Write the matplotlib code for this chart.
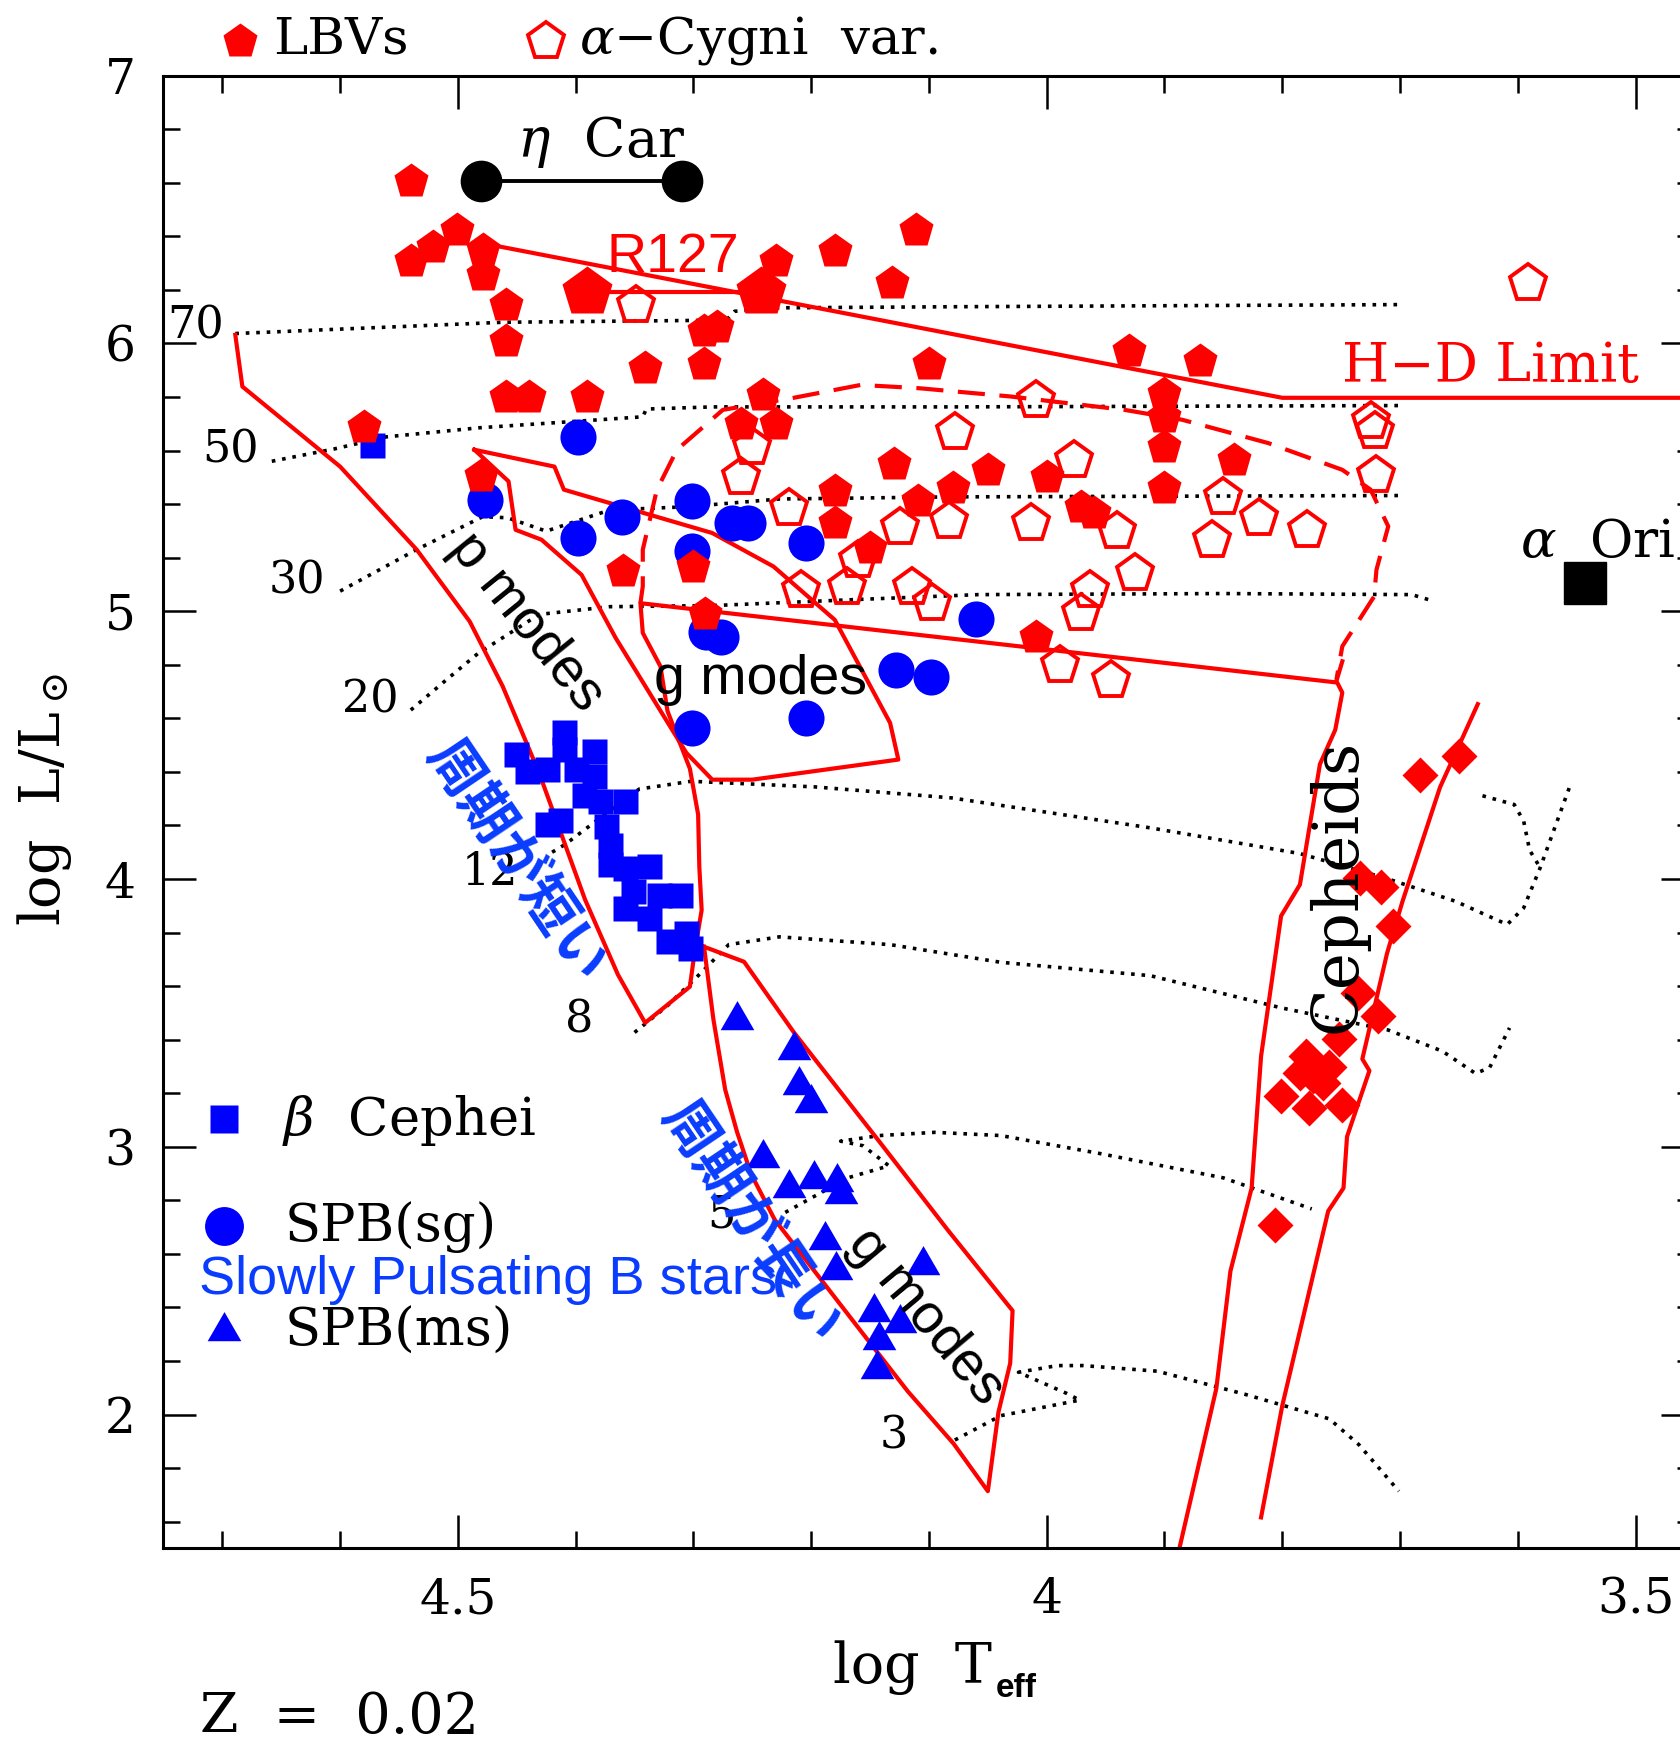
import numpy as np
import matplotlib
matplotlib.use("Agg")
import matplotlib.pyplot as plt
from matplotlib.ticker import MultipleLocator, FixedLocator, FixedFormatter

plt.rcParams['font.family'] = ['DejaVu Serif']
plt.rcParams['mathtext.fontset'] = 'dejavuserif'

# ---------------- data: (log Teff, log L/Lsun) ----------------
lbv_logT = [4.540, 4.501, 4.521, 4.540, 4.479, 4.479, 4.459, 4.459, 4.459, 4.440,
            4.390, 4.341, 4.291, 4.280, 4.291, 4.230, 4.180, 4.111, 4.131, 4.100,
            4.241, 4.260, 4.230, 4.580, 4.480, 4.360, 4.300, 4.290, 4.180, 4.180,
            4.150, 4.130, 4.109, 4.080, 4.050, 4.000, 3.971, 3.960, 3.930, 3.870,
            3.900, 3.900, 3.900, 3.900, 3.841, 4.009]
lbv_logL = [6.606, 6.423, 6.361, 6.307, 6.349, 6.257, 6.145, 6.008, 5.801, 5.801,
            5.801, 5.909, 6.046, 6.062, 5.925, 6.307, 6.344, 6.423, 6.224, 5.925,
            5.809, 5.701, 5.701, 5.689, 5.506, 5.149, 5.166, 4.988, 5.448, 5.328,
            5.237, 5.548, 5.411, 5.461, 5.527, 5.502, 5.390, 5.365, 5.971, 5.934,
            5.813, 5.726, 5.614, 5.461, 5.564, 4.905]
r127_logT = [4.390, 4.243]
r127_logL = [6.192, 6.192]

acyg_logT = [4.349, 4.009, 4.078, 3.725, 3.721, 3.720, 3.977, 4.250, 4.260, 4.219,
             4.125, 4.083, 4.013, 3.940, 3.850, 3.820, 3.779, 3.860, 3.925, 4.160,
             4.170, 4.209, 4.114, 4.097, 3.963, 3.971, 3.989, 3.945, 3.591]
acyg_logL = [6.145, 5.788, 5.668, 5.710, 5.672, 5.510, 5.564, 5.614, 5.502, 5.386,
             5.315, 5.336, 5.328, 5.299, 5.427, 5.349, 5.303, 5.266, 5.141, 5.191,
             5.091, 5.079, 5.091, 5.029, 5.079, 4.992, 4.801, 4.743, 6.224]

bcep_logT = [4.451, 4.441, 4.424, 4.410, 4.410, 4.384, 4.400, 4.384, 4.393, 4.379,
             4.358, 4.424, 4.413, 4.374, 4.371, 4.371, 4.358, 4.338, 4.351, 4.311,
             4.329, 4.358, 4.338, 4.322, 4.303, 4.306, 4.573]
bcep_logL = [4.467, 4.405, 4.412, 4.548, 4.484, 4.477, 4.412, 4.384, 4.312, 4.291,
             4.291, 4.205, 4.220, 4.198, 4.127, 4.056, 4.041, 4.049, 3.956, 3.942,
             3.942, 3.891, 3.856, 3.770, 3.742, 3.798, 5.622]

spbsg_logT = [4.477, 4.398, 4.398, 4.361, 4.301, 4.301, 4.267, 4.254, 4.204, 4.289,
              4.277, 4.060, 4.128, 4.098, 4.204, 4.301]
spbsg_logL = [5.415, 5.651, 5.274, 5.353, 5.411, 5.224, 5.328, 5.328, 5.253, 4.921,
              4.905, 4.971, 4.780, 4.755, 4.602, 4.564]

spbms_logT = [4.263, 4.215, 4.210, 4.200, 4.241, 4.219, 4.198, 4.178, 4.175, 4.188,
              4.179, 4.105, 4.147, 4.125, 4.142, 4.144]
spbms_logL = [3.475, 3.363, 3.232, 3.162, 2.959, 2.846, 2.880, 2.867, 2.822, 2.651,
              2.539, 2.558, 2.382, 2.342, 2.278, 2.172]

ceph_logT = [3.650, 3.683, 3.734, 3.716, 3.706, 3.736, 3.719, 3.752, 3.780, 3.785,
             3.774, 3.801, 3.777, 3.749, 3.806, 3.760, 3.765]
ceph_logL = [4.461, 4.390, 4.002, 3.969, 3.823, 3.573, 3.487, 3.402, 3.338, 3.274,
             3.263, 3.188, 3.145, 3.156, 2.707, 3.299, 3.237]

etacar_logT = [4.480, 4.310]
etacar_logL = [6.606, 6.606]
alfori_logT = [3.543]
alfori_logL = [5.104]

# evolutionary tracks (dotted)
trk70_T = [4.689, 4.462, 4.272, 4.265, 4.227, 4.081, 3.700]
trk70_L = [6.037, 6.079, 6.087, 6.120, 6.133, 6.137, 6.145]
trk50_T = [4.658, 4.605, 4.561, 4.482, 4.397, 4.343, 4.340, 4.284, 4.081, 3.700]
trk50_L = [5.560, 5.606, 5.651, 5.685, 5.710, 5.726, 5.755, 5.763, 5.763, 5.768]
trk30_T = [4.600, 4.536, 4.479, 4.458, 4.425, 4.371, 4.306, 4.227, 4.081, 3.700]
trk30_L = [5.075, 5.228, 5.353, 5.349, 5.299, 5.378, 5.390, 5.419, 5.427, 5.432]
trk20_T = [4.540, 4.510, 4.483, 4.431, 4.371, 4.284, 4.171, 4.058, 3.850, 3.690, 3.671]
trk20_L = [4.631, 4.743, 4.842, 4.988, 5.017, 5.021, 5.042, 5.062, 5.066, 5.062, 5.037]
trk12_T = [4.420, 4.409, 4.378, 4.346, 4.302, 4.197, 4.081, 3.912, 3.785, 3.710,
           3.653, 3.609, 3.595, 3.581, 3.556]
trk12_L = [4.100, 4.129, 4.232, 4.336, 4.365, 4.344, 4.303, 4.191, 4.095, 4.000,
           3.917, 3.830, 3.892, 4.042, 4.344]
trk12b_T = [3.630, 3.603, 3.595, 3.590, 3.581]
trk12b_L = [4.311, 4.278, 4.216, 4.108, 4.042]
trk8_T = [4.350, 4.322, 4.293, 4.270, 4.227, 4.133, 4.039, 3.912, 3.801, 3.710,
          3.664, 3.636, 3.624, 3.607]
trk8_L = [3.427, 3.527, 3.652, 3.755, 3.784, 3.755, 3.689, 3.639, 3.519, 3.436,
          3.357, 3.274, 3.295, 3.444]
trk5_T = [4.222, 4.169, 4.134, 4.156, 4.175, 4.142, 4.095, 4.039, 3.955, 3.850, 3.775]
trk5_L = [2.755, 2.884, 2.929, 3.004, 3.021, 3.042, 3.054, 3.042, 2.975, 2.884, 2.768]
trk3_T = [4.078, 4.039, 3.972, 3.983, 4.024, 3.991, 3.969, 3.906, 3.831, 3.760, 3.735, 3.701]
trk3_L = [1.905, 1.996, 2.054, 2.079, 2.158, 2.183, 2.183, 2.162, 2.075, 1.984, 1.888, 1.714]

mass_labels = ['70', '50', '30', '20', '12', '8', '5', '3']
mass_lab_T = [4.723, 4.693, 4.637, 4.574, 4.473, 4.397, 4.276, 4.130]
mass_lab_L = [6.066, 5.602, 5.112, 4.668, 4.025, 3.473, 2.747, 1.921]

# instability strip / region boundaries (red)
bcep_strip_T = [4.689, 4.683, 4.600, 4.535, 4.490, 4.462, 4.431, 4.392, 4.364, 4.341,
                4.303, 4.299, 4.293, 4.295, 4.296, 4.303, 4.322, 4.328, 4.343, 4.345, 3.756]
bcep_strip_L = [6.032, 5.839, 5.540, 5.230, 4.962, 4.720, 4.396, 3.923, 3.642, 3.463,
                3.598, 3.727, 3.884, 4.046, 4.241, 4.412, 4.627, 4.794, 4.919, 5.030, 4.735]
ceph_blue_T = [3.749, 3.754, 3.749, 3.755, 3.768, 3.785, 3.801, 3.818, 3.826, 3.844, 3.856, 3.890]
ceph_blue_L = [4.813, 4.739, 4.696, 4.557, 4.429, 3.979, 3.862, 3.338, 2.846, 2.536, 2.097, 1.45]
ceph_red_T = [3.634, 3.666, 3.698, 3.711, 3.732, 3.726, 3.745, 3.748, 3.761, 3.800, 3.818]
ceph_red_L = [4.653, 4.343, 3.915, 3.723, 3.328, 3.284, 3.038, 2.846, 2.760, 2.033, 1.616]
acyg_reg_T = [4.345, 4.343, 4.343, 4.331, 4.314, 4.275, 4.216, 4.158, 4.109, 4.031,
              3.934, 3.885, 3.812, 3.749, 3.725, 3.710, 3.720, 3.722, 3.749, 3.754]
acyg_reg_L = [5.030, 5.093, 5.230, 5.454, 5.603, 5.752, 5.796, 5.845, 5.833, 5.802,
              5.752, 5.715, 5.628, 5.528, 5.454, 5.317, 5.155, 5.055, 4.869, 4.745]
spbsg_reg_T = [4.486, 4.418, 4.410, 4.284, 4.232, 4.180, 4.133, 4.126, 4.250, 4.284,
               4.306, 4.366, 4.395, 4.429, 4.451, 4.457, 4.486]
spbsg_reg_L = [5.603, 5.540, 5.454, 5.292, 5.167, 4.968, 4.583, 4.446, 4.371, 4.371,
               4.471, 4.900, 5.136, 5.267, 5.304, 5.485, 5.603]
spbms_reg_T = [4.291, 4.257, 4.215, 4.144, 4.084, 4.029, 4.031, 4.041, 4.050, 4.079,
               4.118, 4.155, 4.193, 4.231, 4.251, 4.263, 4.273, 4.283, 4.291]
spbms_reg_L = [3.747, 3.691, 3.429, 3.030, 2.689, 2.388, 2.192, 2.009, 1.714, 1.891,
               2.087, 2.296, 2.512, 2.728, 2.898, 3.056, 3.213, 3.475, 3.747]
hd_limit_T = [4.473, 3.800, 3.300]
hd_limit_L = [6.369, 5.797, 5.797]

RED = '#ff0000'
BLUE = '#0000ff'
JBLUE = '#0a3cff'

fig = plt.figure(figsize=(16.8, 17.43), dpi=100)
ax = fig.add_axes([0.0973, 0.1116, 0.9113, 0.845])
ax.set_xlim(4.75, 3.45)
ax.set_ylim(1.5, 7.0)

# tracks
dot = (0, (1.0, 1.9))
for T, L in [(trk70_T, trk70_L), (trk50_T, trk50_L), (trk30_T, trk30_L),
             (trk20_T, trk20_L), (trk12_T, trk12_L), (trk12b_T, trk12b_L),
             (trk8_T, trk8_L), (trk5_T, trk5_L), (trk3_T, trk3_L)]:
    ax.plot(T, L, color='k', lw=2.6, ls=dot, zorder=1)
for lab, x, y in zip(mass_labels, mass_lab_T, mass_lab_L):
    ax.text(x, y, lab, fontsize=32, ha='center', va='center', zorder=5)

# red boundaries
lw_r = 3.0
ax.plot(bcep_strip_T, bcep_strip_L, color=RED, lw=lw_r, zorder=2)
ax.plot(ceph_blue_T, ceph_blue_L, color=RED, lw=lw_r, zorder=2)
ax.plot(ceph_red_T, ceph_red_L, color=RED, lw=lw_r, zorder=2)
ax.plot(spbsg_reg_T, spbsg_reg_L, color=RED, lw=lw_r, zorder=2)
ax.plot(spbms_reg_T, spbms_reg_L, color=RED, lw=lw_r, zorder=2)
ax.plot(acyg_reg_T, acyg_reg_L, color=RED, lw=lw_r, ls=(0, (6.5, 3.5)), zorder=2)
ax.plot(hd_limit_T, hd_limit_L, color=RED, lw=lw_r, zorder=2)
ax.plot(r127_logT, r127_logL, color=RED, lw=lw_r, zorder=2)

# markers
ax.plot(bcep_logT, bcep_logL, ls='none', marker='s', ms=18, color=BLUE, mec='none', zorder=3)
ax.plot(spbsg_logT, spbsg_logL, ls='none', marker='o', ms=26, color=BLUE, mec='none', zorder=3)
ax.plot(spbms_logT, spbms_logL, ls='none', marker=(3, 0, 0), ms=28, color=BLUE, mec='none', zorder=3)
ax.plot(acyg_logT, acyg_logL, ls='none', marker='p', ms=28, mfc='none', mec=RED, mew=2.8, zorder=4)
ax.plot(lbv_logT, lbv_logL, ls='none', marker='p', ms=26, color=RED, mec='none', zorder=4)
ax.plot(r127_logT, r127_logL, ls='none', marker='p', ms=38, color=RED, mec='none', zorder=4)
ax.plot(ceph_logT, ceph_logL, ls='none', marker='D', ms=18, color=RED, mec='none', zorder=4)
ax.plot(etacar_logT, etacar_logL, color='k', lw=2.8, marker='o', ms=29, zorder=4)
ax.plot(alfori_logT, alfori_logL, ls='none', marker='s', ms=30, color='k', zorder=4)

# legend-like labels
ax.plot([4.685], [7.129], marker='p', ms=26, color=RED, mec='none', clip_on=False, ls='none')
ax.text(4.657, 7.133, 'LBVs', fontsize=37, ha='left', va='center')
ax.plot([4.425], [7.129], marker='p', ms=28, mfc='none', mec=RED, mew=2.8, clip_on=False, ls='none')
ax.text(4.397, 7.133, r'$\alpha$' + '\u2212Cygni  var.', fontsize=37, ha='left', va='center')

ax.plot([4.699], [3.104], marker='s', ms=20, color=BLUE, mec='none', ls='none')
ax.text(4.649, 3.10, r'$\beta$  Cephei', fontsize=38, ha='left', va='center')
ax.plot([4.699], [2.705], marker='o', ms=28, color=BLUE, mec='none', ls='none')
ax.text(4.647, 2.70, 'SPB(sg)', fontsize=38, ha='left', va='center')
ax.text(4.720, 2.502, 'Slowly Pulsating B stars', fontsize=39, ha='left', va='center',
        color=JBLUE, family=['Liberation Sans'], zorder=6)
ax.plot([4.699], [2.311], marker=(3, 0, 0), ms=28, color=BLUE, mec='none', ls='none')
ax.text(4.647, 2.31, 'SPB(ms)', fontsize=38, ha='left', va='center')

# annotations
ax.text(4.378, 6.751, r'$\eta$  Car', fontsize=39, ha='center', va='center')
ax.text(4.374, 6.320, 'R127', fontsize=40, ha='left', va='center', color=RED,
        family=['Liberation Sans'], zorder=5)
ax.text(3.749, 5.913, 'H\u2212D Limit', fontsize=39, ha='left', va='center', color=RED, zorder=5)
ax.text(3.598, 5.257, r'$\alpha$  Ori', fontsize=38, ha='left', va='center', zorder=5)
ax.text(3.753, 3.975, 'Cepheids', fontsize=45, ha='center', va='center', rotation=90,
        rotation_mode='anchor', zorder=5)
ax.text(4.442, 4.959, 'p modes', fontsize=40, ha='center', va='center', rotation=-51,
        rotation_mode='anchor', family=['Liberation Sans'], zorder=5)
ax.text(4.243, 4.743, 'g modes', fontsize=40, ha='center', va='center',
        family=['Liberation Sans'], zorder=5)
ax.text(4.103, 2.365, 'g modes', fontsize=40, ha='center', va='center', rotation=-50,
        rotation_mode='anchor', family=['Liberation Sans'], zorder=5)
ax.text(4.451, 4.066, '周期が短い', fontsize=40, ha='center', va='center', rotation=-56,
        rotation_mode='anchor', color=JBLUE, family=['Noto Sans CJK JP'], weight='bold', zorder=6)
ax.text(4.251, 2.718, '周期が長い', fontsize=40, ha='center', va='center', rotation=-56,
        rotation_mode='anchor', color=JBLUE, family=['Noto Sans CJK JP'], weight='bold', zorder=6)

# axes styling
for sp in ax.spines.values():
    sp.set_linewidth(2.2)
ax.xaxis.set_major_locator(FixedLocator([4.5, 4.0, 3.5]))
ax.xaxis.set_major_formatter(FixedFormatter(['4.5', '4', '3.5']))
ax.xaxis.set_minor_locator(MultipleLocator(0.1))
ax.yaxis.set_major_locator(FixedLocator([2, 3, 4, 5, 6, 7]))
ax.yaxis.set_major_formatter(FixedFormatter(['2', '3', '4', '5', '6', '7']))
ax.yaxis.set_minor_locator(MultipleLocator(0.2))
ax.tick_params(which='both', direction='in', top=True, right=True, width=1.8,
               labelsize=35, pad=20)
ax.tick_params(which='major', length=24)
ax.tick_params(which='minor', length=12)

# x label: "log T" followed by a subscript "eff" placed right after it
xl = fig.text(0.496, 0.0434, 'log  T', fontsize=40, ha='left', va='center')
renderer = fig.canvas.get_renderer()
bb = xl.get_window_extent(renderer=renderer)
x_after = bb.x1 / fig.bbox.width + 0.002
fig.text(x_after, 0.031, 'eff', fontsize=24, ha='left', va='center',
         family=['Liberation Sans'], weight='bold')
fig.text(0.0265, 0.541, r'log  L/L$_\odot$', fontsize=40, ha='center', va='center', rotation=90)
fig.text(0.119, 0.0147, 'Z  =  0.02', fontsize=40, ha='left', va='center')

fig.savefig('out.png', dpi=100)
